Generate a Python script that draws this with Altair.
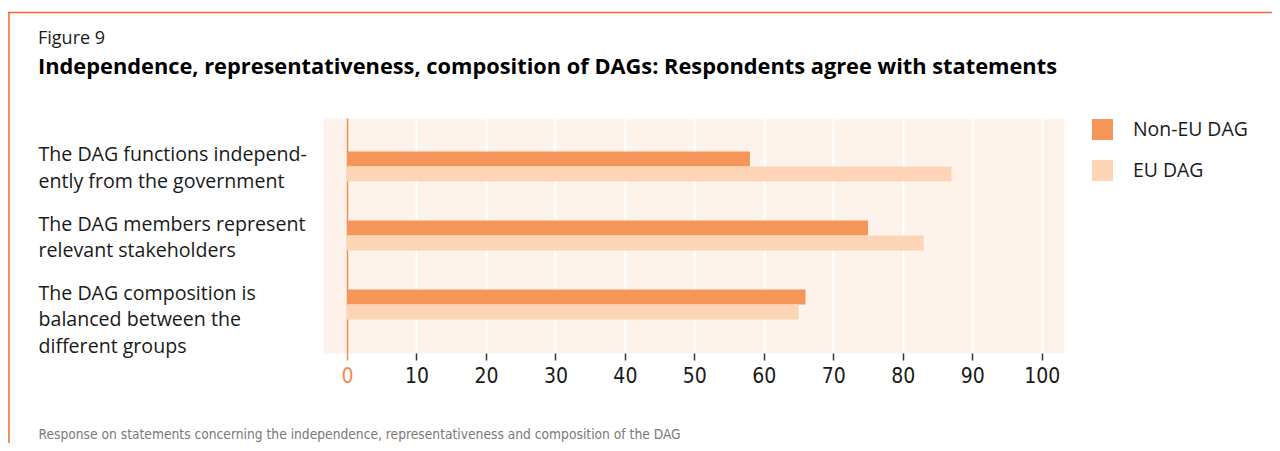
import altair as alt
import pandas as pd

# ---- data ----
statements = [
    "The DAG functions independ-|ently from the government",
    "The DAG members represent|relevant stakeholders",
    "The DAG composition is|balanced between the|different groups",
]
series = ["Non-EU DAG", "EU DAG"]
non_eu = [58, 75, 66]
eu = [87, 83, 65]
tick_values = [0, 10, 20, 30, 40, 50, 60, 70, 80, 90, 100]

title_small = "Figure 9"
title_main = "Independence, representativeness, composition of DAGs: Respondents agree with statements"
footer = "Response on statements concerning the independence, representativeness and composition of the DAG"

rows = []
for s, a, b in zip(statements, non_eu, eu):
    rows.append({"statement": s, "group": series[0], "value": a})
    rows.append({"statement": s, "group": series[1], "value": b})
df = pd.DataFrame(rows)

# ---- style ----
FONT = "Open Sans"
COND = "Liberation Sans Narrow, DejaVu Sans Condensed, sans-serif"
C_NONEU = "#F5955A"
C_EU = "#FDD4B5"
BG = "#FEF3EA"
ZERO = "#F28C52"
FRAME = "#EF6A2C"
TXT = "#1a1a1a"

W, H = 741, 235
PAD = {"left": 315, "top": 110, "right": 208, "bottom": 90}

zero_test = "datum.value === 0"

x_enc = alt.X(
    "value:Q",
    scale=alt.Scale(domain=[-3.45, 103.2], nice=False, zero=False),
    axis=alt.Axis(
        values=tick_values,
        title=footer,
        grid=True,
        gridColor={"condition": {"test": zero_test, "value": ZERO}, "value": "#ffffff"},
        gridWidth={"condition": {"test": zero_test, "value": 1.5}, "value": 2},
        domain=False,
        ticks=True,
        tickSize=7,
        tickWidth=1.5,
        tickColor={"condition": {"test": zero_test, "value": ZERO}, "value": "#333333"},
        labelColor={"condition": {"test": zero_test, "value": ZERO}, "value": TXT},
        labelFont=COND,
        labelFontSize=21,
        labelPadding=5,
        titleX=-285,
        titleY=81,
        titleAlign="left",
        titleBaseline="middle",
        titleFont=COND,
        titleFontSize=13.7,
        titleFontWeight="normal",
        titleColor="#7a7a7a",
    ),
)

y_enc = alt.Y(
    "statement:N",
    sort=statements,
    scale=alt.Scale(paddingInner=0.565, paddingOuter=0.485),
    axis=alt.Axis(
        title=None,
        labelExpr="split(datum.label, '|')",
        labelAlign="left",
        labelBaseline="top",
        labelPadding=285,
        labelOffset=-20,
        ticks=False,
        tickSize=0,
        domain=False,
        labelLimit=0,
        labelOverlap=False,
        labelFont=FONT,
        labelFontSize=19.6,
        labelColor=TXT,
        labelLineHeight=26.5,
    ),
)

bars = alt.Chart(df).mark_bar(strokeWidth=0).encode(
    x=x_enc,
    x2=alt.datum(0),
    y=y_enc,
    yOffset=alt.YOffset("group:N", sort=series,
                        scale=alt.Scale(paddingInner=0, paddingOuter=0)),
    color=alt.Color(
        "group:N",
        sort=series,
        scale=alt.Scale(domain=series, range=[C_NONEU, C_EU]),
        legend=alt.Legend(
            title=None,
            orient="none",
            legendX=769,
            legendY=1,
            symbolType="square",
            symbolSize=441,
            symbolStrokeWidth=0,
            labelFont=FONT,
            labelFontSize=19.4,
            labelColor=TXT,
            labelOffset=20,
            rowPadding=20,
            padding=0,
        ),
    ),
)

frame_df = pd.DataFrame({"k": [0]})
frame_top = alt.Chart(frame_df).mark_rule(color=FRAME, strokeWidth=1.5).encode(
    x=alt.value(-315), x2=alt.value(W + PAD["right"]), y=alt.value(-105.5)
)
frame_left = alt.Chart(frame_df).mark_rule(color=FRAME, strokeWidth=1.5).encode(
    x=alt.value(-314), y=alt.value(-106), y2=alt.value(H + PAD["bottom"])
)

chart = alt.layer(bars, frame_top, frame_left).properties(
    width=W,
    height=H,
    padding=PAD,
    background="#ffffff",
    autosize=alt.AutoSizeParams(type="none"),
    title=alt.TitleParams(
        text=title_small,
        subtitle=title_main,
        anchor="start",
        frame="group",
        dx=-285,
        offset=-68,
        font=FONT,
        fontSize=18,
        fontWeight="normal",
        color=TXT,
        subtitleFont=FONT,
        subtitleFontSize=21.8,
        subtitleFontWeight="bold",
        subtitleColor="#000000",
        subtitlePadding=9,
    ),
).configure_view(fill=BG, stroke="transparent")

chart.save("out.html", embed_options={"renderer": "svg", "actions": False})
